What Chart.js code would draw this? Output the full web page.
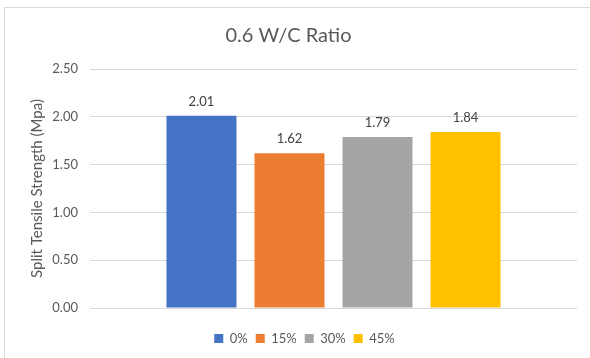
<!DOCTYPE html>
<html>
<head>
<meta charset="utf-8">
<script src="https://cdn.jsdelivr.net/npm/chart.js@4"></script>
<style>
  html, body { margin: 0; padding: 0; background: #fff; }
  #wrap { position: relative; width: 590px; height: 358px; overflow: hidden; }
  #frame { position: absolute; left: 4px; top: 7px; width: 700px; height: 400px; border: 1px solid #d9d9d9; box-sizing: border-box; }
  canvas { position: absolute; left: 0; top: 0; }
</style>
</head>
<body>
<div id="wrap">
  <div id="frame"></div>
  <canvas id="c" width="590" height="358"></canvas>
</div>
<script>
// Split tensile strength at 0.6 W/C ratio, by replacement level
const categories = [''];
const seriesNames = ['0%', '15%', '30%', '45%'];
const strength0 = [2.01];
const strength15 = [1.62];
const strength30 = [1.79];
const strength45 = [1.84];
const yTicks = [0, 0.5, 1.0, 1.5, 2.0, 2.5];

const colors = ['#4472C4', '#ED7D31', '#A5A5A5', '#FFC000'];
const values = [strength0, strength15, strength30, strength45];
const FONT = 'Lato, "Open Sans", sans-serif';

// value labels above each bar
const barLabels = {
  id: 'barLabels',
  afterDatasetsDraw(chart) {
    const ctx = chart.ctx;
    ctx.save();
    ctx.font = '13px ' + FONT;
    ctx.fillStyle = '#404040';
    ctx.textAlign = 'center';
    ctx.textBaseline = 'bottom';
    chart.data.datasets.forEach((ds, i) => {
      chart.getDatasetMeta(i).data.forEach((bar, j) => {
        ctx.fillText(ds.data[j].toFixed(2), bar.x, bar.y - 8);
      });
    });
    ctx.restore();
  }
};

// center the legend under the outer frame rather than the canvas
const legendShift = {
  id: 'legendShift',
  afterLayout(chart) {
    if (chart.legend) {
      chart.legend.left += 16;
      chart.legend.right += 16;
    }
  }
};

new Chart(document.getElementById('c'), {
  type: 'bar',
  data: {
    labels: categories,
    datasets: seriesNames.map((name, i) => ({
      label: name,
      data: values[i],
      backgroundColor: colors[i],
      borderWidth: 0,
      categoryPercentage: 0.723,
      barPercentage: 0.795
    }))
  },
  options: {
    responsive: false,
    animation: false,
    layout: { padding: { left: 0, right: 13, top: 0, bottom: 3 } },
    plugins: {
      title: {
        display: true,
        text: '0.6 W/C Ratio',
        color: '#595959',
        font: { family: FONT, size: 20, weight: 'normal' },
        padding: { top: 24, bottom: 21 }
      },
      legend: {
        position: 'bottom',
        labels: {
          color: '#595959',
          font: { family: FONT, size: 13 },
          boxWidth: 9,
          boxHeight: 9,
          padding: 8,
          useBorderRadius: false
        }
      },
      tooltip: { enabled: false }
    },
    scales: {
      x: {
        display: true,
        afterFit(scale) { scale.height = 16; },
        ticks: { display: false },
        grid: { display: false },
        border: { display: false }
      },
      y: {
        min: 0,
        max: 2.5,
        afterBuildTicks(scale) { scale.ticks = yTicks.map(v => ({ value: v })); },
        afterFit(scale) { scale.width = 90; },
        ticks: {
          color: '#595959',
          font: { family: FONT, size: 13 },
          padding: 12,
          callback: v => Number(v).toFixed(2)
        },
        grid: { color: '#d9d9d9', drawTicks: false },
        border: { display: false },
        title: {
          display: true,
          text: 'Split Tensile Strength (Mpa)',
          color: '#595959',
          font: { family: FONT, size: 15 },
          padding: { top: 28, bottom: 6 }
        }
      }
    }
  },
  plugins: [barLabels, legendShift]
});
</script>
</body>
</html>
